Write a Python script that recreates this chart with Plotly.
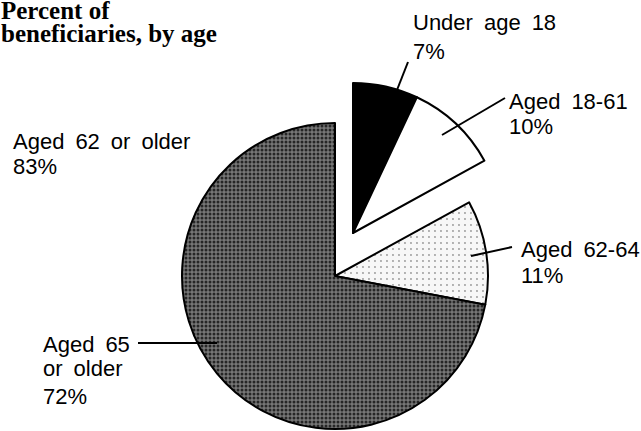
import plotly.graph_objects as go

W, H = 641, 431

# ---- data ----
categories = ["Under age 18", "Aged 18-61", "Aged 62-64", "Aged 65 or older"]
values = [7, 10, 11, 72]
group_label = "Aged 62 or older"
group_value = values[2] + values[3]  # 83

# ---- geometry helpers (pixel -> paper) ----
def px(x):
    return x / W

def py(y):
    return 1 - y / H

R = 153
main_c = (335, 276)
pulled_c = (353, 233)

def dom(c, r=R):
    return dict(x=[px(c[0] - r), px(c[0] + r)], y=[py(c[1] + r), py(c[1] - r)])

clear = "rgba(0,0,0,0)"

fig = go.Figure()

# main (unpulled) pie: 62+ slices
fig.add_trace(go.Pie(
    labels=categories, values=values, sort=False, direction="clockwise", rotation=0,
    textinfo="none", hoverinfo="label+percent", showlegend=False,
    domain=dom(main_c),
    marker=dict(
        colors=[clear, clear, "#f4f4f4", "#6c6c6c"],
        line=dict(color=["rgba(0,0,0,0)", "rgba(0,0,0,0)", "black", "black"], width=[0, 0, 2, 2]),
        pattern=dict(shape=["", "", ".", "."],
                     fgcolor=["black", "black", "#9a9a9a", "#262626"],
                     bgcolor=[clear, clear, "#f7f7f7", "#777777"],
                     size=[6, 6, 6, 4], solidity=[0.1, 0.1, 0.08, 0.45],
                     fillmode="replace"),
    ),
))

# pulled group: under 18 and 18-61
pulled_vals = [values[0], values[1], group_value]
fig.add_trace(go.Pie(
    labels=[categories[0], categories[1], group_label], values=pulled_vals,
    sort=False, direction="clockwise", rotation=0,
    textinfo="none", hoverinfo="label+percent", showlegend=False,
    domain=dom(pulled_c, 150),
    marker=dict(
        colors=["black", "white", clear],
        line=dict(color=["black", "black", "rgba(0,0,0,0)"], width=[2, 2, 0]),
    ),
))

annotations = []
SP = "\u2002"  # wide word spacing like the reference typeface

def text_line(txt, x, baseline, size=22, family="Liberation Sans", ascent=0.905, bold=False, wide=True):
    if wide:
        txt = txt.replace(" ", SP)
    ytop = baseline - 1 - ascent * size
    annotations.append(dict(
        text=("<b>%s</b>" % txt) if bold else txt, x=px(x - 1), y=py(ytop),
        xref="paper", yref="paper", xanchor="left", yanchor="top",
        showarrow=False, font=dict(family=family, size=size, color="black"),
    ))

# title
text_line("Percent of", 0, 18, size=25, family="Liberation Serif", ascent=0.891, bold=True, wide=False)
text_line("beneficiaries, by age", 0, 41, size=25, family="Liberation Serif", ascent=0.891, bold=True, wide=False)

# slice labels
text_line("Under age 18", 412, 29)
text_line("%d%%" % values[0], 412, 58)
text_line("Aged 18-61", 508, 108)
text_line("%d%%" % values[1], 508, 133)
text_line("Aged 62-64", 520, 256)
text_line("%d%%" % values[2], 520, 282)
text_line("Aged 65", 42, 351)
text_line("or older", 42, 375)
text_line("%d%%" % values[3], 42, 403)
text_line(group_label, 12, 148)
text_line("%d%%" % group_value, 12, 173)

fig.update_layout(annotations=annotations)

# leader lines
leaders = [((408, 62), (397, 90)), ((505, 98), (442, 135)),
           ((512, 247), (471, 256)), ((138, 343), (217, 343))]
for (x0, y0), (x1, y1) in leaders:
    fig.add_shape(type="line", xref="paper", yref="paper",
                  x0=px(x0), y0=py(y0), x1=px(x1), y1=py(y1),
                  line=dict(color="black", width=2))

fig.update_layout(
    width=W, height=H, margin=dict(l=0, r=0, t=0, b=0),
    paper_bgcolor="white", plot_bgcolor="white",
)

fig.write_html("out.html", config={"displayModeBar": False},
               post_script="document.body.style.margin='0';document.body.style.padding='0';document.body.style.overflow='hidden';")
